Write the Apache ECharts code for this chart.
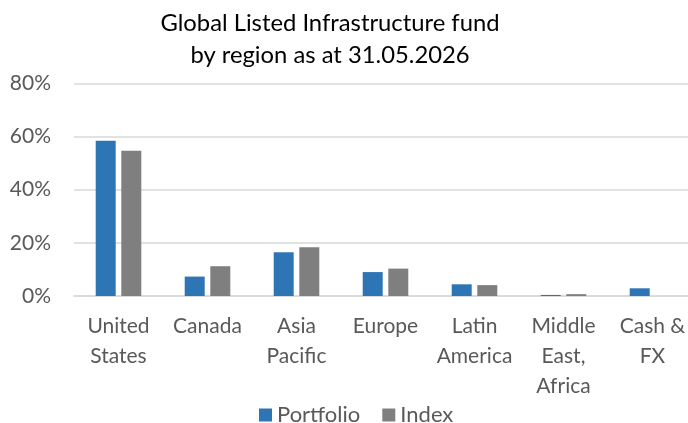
<!DOCTYPE html>
<html>
<head>
<meta charset="utf-8">
<script src="https://cdn.jsdelivr.net/npm/echarts@6/dist/echarts.min.js"></script>
<style>
html,body{margin:0;padding:0;background:#fff;}
#chart{width:688px;height:423px;}
</style>
</head>
<body>
<div id="chart"></div>
<script>
const categories = ['United\nStates', 'Canada', 'Asia\nPacific', 'Europe', 'Latin\nAmerica', 'Middle\nEast,\nAfrica', 'Cash &\nFX'];
const portfolio = [58.4, 7.3, 16.5, 9.0, 4.4, 0.4, 2.9];
const indexValues = [54.6, 11.2, 18.3, 10.3, 4.1, 0.7, 0];
const yTicks = [0, 20, 40, 60, 80];
const titleLines = ['Global Listed Infrastructure fund', 'by region as at 31.05.2026'];

const FONT = 'Lato';
const chart = echarts.init(document.getElementById('chart'), null, {renderer: 'canvas'});
chart.setOption({
  animation: false,
  backgroundColor: '#fff',
  title: {
    text: titleLines.join('\n'),
    left: 330,
    textAlign: 'center',
    top: 7,
    padding: 0,
    textStyle: {fontFamily: FONT, fontSize: 23.8, fontWeight: 'normal', color: '#000', lineHeight: 32}
  },
  legend: {
    left: 259,
    top: 404,
    padding: 0,
    itemWidth: 13,
    itemHeight: 13,
    itemGap: 22,
    icon: 'rect',
    textStyle: {fontFamily: FONT, fontSize: 22, color: '#595959', lineHeight: 22},
    data: ['Portfolio', 'Index']
  },
  grid: {left: 74, right: -9, top: 83.3, bottom: 127, containLabel: false, outerBoundsMode: 'none'},
  xAxis: {
    type: 'category',
    data: categories,
    axisTick: {show: false},
    axisLine: {lineStyle: {color: '#D9D9D9', width: 1.5}},
    axisLabel: {fontFamily: FONT, fontSize: 21, color: '#595959', lineHeight: 30, margin: 15, interval: 0}
  },
  yAxis: {
    type: 'value',
    min: yTicks[0],
    max: yTicks[yTicks.length - 1],
    interval: yTicks[1] - yTicks[0],
    axisLine: {show: false},
    axisTick: {show: false},
    splitLine: {lineStyle: {color: '#D9D9D9', width: 1.5}},
    axisLabel: {fontFamily: FONT, fontSize: 21, color: '#595959', margin: 23, formatter: v => v + '%'}
  },
  series: [
    {name: 'Portfolio', type: 'bar', data: portfolio, barWidth: 20, barGap: '28%', itemStyle: {color: '#2E75B6'}},
    {name: 'Index', type: 'bar', data: indexValues, barWidth: 20, barGap: '28%', itemStyle: {color: '#7F7F7F'}}
  ]
});
</script>
</body>
</html>
